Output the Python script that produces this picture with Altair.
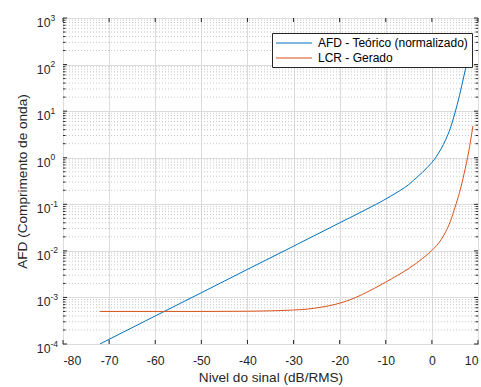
import altair as alt
import pandas as pd

# ---- data ----
afd_x = [-72, -60, -50, -40, -30, -20, -15, -12, -9, -7, -5, -3, -2, -1, 0,
         1, 2, 3, 4, 5, 6, 7, 8, 8.8]
afd_y = [1.0e-4, 4.0e-4, 1.26e-3, 4.0e-3, 1.26e-2, 4.0e-2, 0.071, 0.101, 0.148, 0.195,
         0.266, 0.40, 0.49, 0.62, 0.79, 1.07, 1.55, 2.45, 4.3, 9.1, 22, 60, 166, 400]

lcr_x = [-72, -50, -40, -35, -30, -27, -24, -21, -18, -15, -10, -5, -2, 0, 2, 3, 4,
         5, 6, 7, 8, 8.9]
lcr_y = [5.0e-4, 5.0e-4, 5.05e-4, 5.15e-4, 5.37e-4, 5.62e-4, 6.17e-4, 7.08e-4, 8.7e-4,
         1.17e-3, 2.14e-3, 4.2e-3, 6.9e-3, 1.02e-2, 1.74e-2, 2.57e-2, 4.27e-2, 0.085,
         0.18, 0.46, 1.38, 4.8]

series_names = ["AFD - Teórico (normalizado)", "LCR - Gerado"]
series_colors = ["#0072BD", "#D95319"]

x_ticks = [-80, -70, -60, -50, -40, -30, -20, -10, 0, 10]
y_decades = [1e-4, 1e-3, 1e-2, 1e-1, 1e0, 1e1, 1e2, 1e3]
y_exponents = ["-4", "-3", "-2", "-1", "0", "1", "2", "3"]
y_minor = [m * d for d in y_decades[:-1] for m in range(2, 10)]

W, H = 415, 326
FONT = "Liberation Sans"
AX = "#262626"

df = pd.concat([
    pd.DataFrame({"x": afd_x, "y": afd_y, "s": series_names[0]}),
    pd.DataFrame({"x": lcr_x, "y": lcr_y, "s": series_names[1]}),
])

xs = alt.Scale(domain=[-80, 10], nice=False, zero=False)
ys = alt.Scale(type="log", domain=[1e-4, 1e3], nice=False)

lines = alt.Chart(df).mark_line(strokeWidth=1, clip=True, interpolate="monotone").encode(
    x=alt.X("x:Q", scale=xs, title="Nivel do sinal (dB/RMS)",
            axis=alt.Axis(values=x_ticks, grid=True, gridColor="#dcdcdc", domain=False,
                          ticks=False, labelPadding=10, titlePadding=4,
                          labelExpr="toString(datum.value)")),
    y=alt.Y("y:Q", scale=ys, title="AFD (Comprimento de onda)",
            axis=alt.Axis(values=y_decades, grid=True, gridColor="#dcdcdc", domain=False,
                          ticks=False, labelPadding=13, labelExpr="'10'", labelOffset=4.5,
                          titlePadding=7)),
    color=alt.Color("s:N", scale=alt.Scale(domain=series_names, range=series_colors),
                    legend=alt.Legend(title=None, orient="none", legendX=209, legendY=15,
                                      fillColor="white", strokeColor=AX, padding=3,
                                      symbolType="M-1,0H5", symbolSize=144,
                                      symbolStrokeWidth=1.2, labelFontSize=12,
                                      labelFont=FONT, labelColor="#000", rowPadding=2,
                                      labelOffset=29, labelLimit=400)),
)

exp_df = pd.DataFrame({"y": y_decades, "e": y_exponents})
exps = alt.Chart(exp_df).mark_text(align="left", baseline="middle", fontSize=8.5,
                                   font=FONT, color=AX, dx=0, dy=-0.5).encode(
    y=alt.Y("y:Q", scale=ys), x=alt.value(-12.5), text="e:N")

minor_df = pd.DataFrame({"y": y_minor})
minor_grid = alt.Chart(minor_df).mark_rule(color="#c8c8c8", strokeDash=[1, 2], strokeWidth=1).encode(
    y=alt.Y("y:Q", scale=ys), x=alt.value(0), x2=alt.value(W))
minor_tl = alt.Chart(minor_df).mark_rule(color=AX, strokeWidth=1).encode(
    y=alt.Y("y:Q", scale=ys), x=alt.value(0), x2=alt.value(2.5))
minor_tr = alt.Chart(minor_df).mark_rule(color=AX, strokeWidth=1).encode(
    y=alt.Y("y:Q", scale=ys), x=alt.value(W - 2.5), x2=alt.value(W))

maj_df = pd.DataFrame({"y": y_decades})
maj_tl = alt.Chart(maj_df).mark_rule(color=AX, strokeWidth=1).encode(
    y=alt.Y("y:Q", scale=ys), x=alt.value(0), x2=alt.value(4))
maj_tr = alt.Chart(maj_df).mark_rule(color=AX, strokeWidth=1).encode(
    y=alt.Y("y:Q", scale=ys), x=alt.value(W - 4), x2=alt.value(W))

xt_df = pd.DataFrame({"x": x_ticks})
xt_b = alt.Chart(xt_df).mark_rule(color=AX, strokeWidth=1).encode(
    x=alt.X("x:Q", scale=xs), y=alt.value(H - 4), y2=alt.value(H))
xt_t = alt.Chart(xt_df).mark_rule(color=AX, strokeWidth=1).encode(
    x=alt.X("x:Q", scale=xs), y=alt.value(0), y2=alt.value(4))

chart = alt.layer(minor_grid, lines, exps, minor_tl, minor_tr, maj_tl, maj_tr, xt_b, xt_t).properties(
    width=W, height=H,
    autosize=alt.AutoSizeParams(type="none"),
    padding={"left": 63, "top": 18, "right": 3, "bottom": 43},
    background="white",
).configure_view(stroke=AX, strokeWidth=1).configure_axis(
    labelFont=FONT, titleFont=FONT, labelColor=AX, titleColor=AX,
    labelFontSize=12.25, titleFontSize=13.6, titleFontWeight="normal",
)

chart.save("out.html", embed_options={"renderer": "svg", "actions": False})
